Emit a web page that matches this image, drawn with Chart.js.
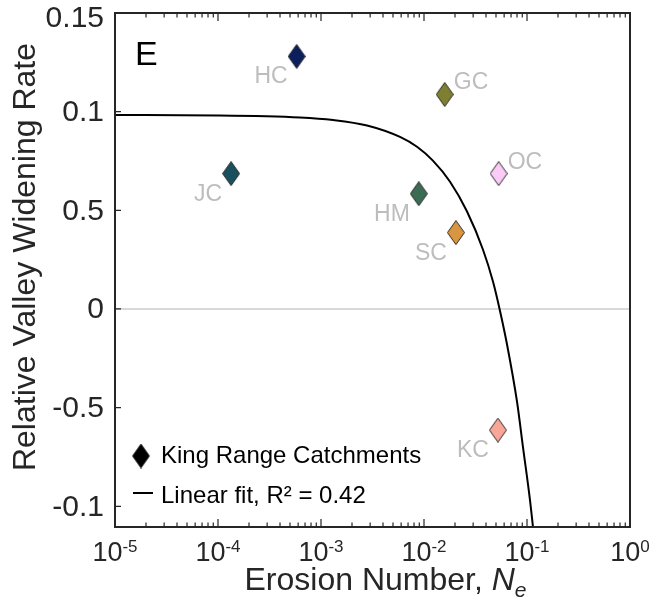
<!DOCTYPE html>
<html lang="en">
<head>
    <meta charset="UTF-8">
    <title>Relative Valley Widening Rate vs Erosion Number</title>
    <script src="https://cdn.jsdelivr.net/npm/chart.js"></script>
    <style>
        body {
            margin: 0;
            background: #fff;
        }
        canvas {
            display: block;
        }
    </style>
</head>
<body>
    <canvas id="widening" width="649" height="605"></canvas>

    <script>
        // King Range catchments
        const catchments = ['HC', 'GC', 'JC', 'OC', 'HM', 'SC', 'KC'];
        const erosionNumber = [5.8e-4, 0.0159, 1.34e-4, 0.0531, 0.0089, 0.0204, 0.0522];
        const wideningRate = [0.128, 0.1087, 0.0686, 0.0686, 0.0584, 0.0387, -0.0614];
        const catchmentColors = ['#0b1f5c', '#7e7f33', '#1a4f5e', '#f9cbf6', '#3b6b52', '#d9953f', '#f8a697'];

        // Linear fit curve, sampled along its length
        const fitX = [1e-5, 1e-4, 6.25e-4, 1.31e-3, 2.8e-3, 5.85e-3, 8.55e-3, 0.0122, 0.0179,
                      0.0261, 0.0374, 0.0468, 0.0547, 0.064, 0.080, 0.0914, 0.107, 0.1143];
        const fitY = [0.0983, 0.0981, 0.0971, 0.0958, 0.0930, 0.0872, 0.0822, 0.0752, 0.0645,
                      0.0495, 0.0300, 0.0138, -0.0010, -0.0180, -0.0470, -0.0700, -0.0970, -0.1105];

        // Axis ticks
        const xMajorTicks = [1e-5, 1e-4, 1e-3, 1e-2, 1e-1, 1];
        const xTickExponents = ['-5', '-4', '-3', '-2', '-1', '0'];
        const yTicks = [0.15, 0.1, 0.05, 0, -0.05, -0.1];
        const yTickLabels = ['0.15', '0.1', '0.5', '0', '-0.5', '-0.1'];

        // names written above-right of their marker (the rest go below-left)
        const labelAbove = ['GC', 'OC'];

        const FONT = "'Liberation Sans', Arial, Helvetica, sans-serif";
        const AXIS_COLOR = '#262626';

        // tall diamond marker drawn once per colour
        function diamond(fill, w, h) {
            const c = document.createElement('canvas');
            c.width = w;
            c.height = h;
            const g = c.getContext('2d');
            g.beginPath();
            g.moveTo(w / 2, 0.5);
            g.lineTo(w - 0.5, h / 2);
            g.lineTo(w / 2, h - 0.5);
            g.lineTo(0.5, h / 2);
            g.closePath();
            g.fillStyle = fill;
            g.fill();
            g.strokeStyle = '#2b2b2b';
            g.lineWidth = 1;
            g.stroke();
            return c;
        }

        const markers = catchmentColors.map(c => diamond(c, 18, 25));
        const legendMarker = diamond('#000', 18, 25);

        const zeroLine = {
            id: 'zeroLine',
            beforeDatasetsDraw(chart) {
                const { ctx, chartArea: a, scales: { y } } = chart;
                const py = y.getPixelForValue(0);
                ctx.save();
                ctx.strokeStyle = '#cccccc';
                ctx.lineWidth = 1.5;
                ctx.beginPath();
                ctx.moveTo(a.left, py);
                ctx.lineTo(a.right, py);
                ctx.stroke();
                ctx.restore();
            }
        };

        const pointNames = {
            id: 'pointNames',
            afterDatasetsDraw(chart) {
                const ctx = chart.ctx;
                const meta = chart.getDatasetMeta(1);
                ctx.save();
                ctx.font = `23px ${FONT}`;
                ctx.fillStyle = '#bdbdbd';
                ctx.textBaseline = 'alphabetic';
                meta.data.forEach((pt, i) => {
                    const name = catchments[i];
                    if (labelAbove.includes(name)) {
                        ctx.textAlign = 'left';
                        ctx.fillText(name, pt.x + 9, pt.y - 5);
                    } else {
                        ctx.textAlign = 'right';
                        ctx.fillText(name, pt.x - 9, pt.y + 27);
                    }
                });
                ctx.restore();
            }
        };

        const frame = {
            id: 'frame',
            afterDraw(chart) {
                const { ctx, chartArea: a, scales: { x, y } } = chart;
                ctx.save();

                // box
                ctx.strokeStyle = AXIS_COLOR;
                ctx.lineWidth = 2;
                ctx.strokeRect(a.left, a.top, a.right - a.left, a.bottom - a.top);

                // inward log ticks on top and bottom
                ctx.lineWidth = 1.2;
                ctx.beginPath();
                xMajorTicks.forEach((v, i) => {
                    const px = x.getPixelForValue(v);
                    ctx.moveTo(px, a.bottom); ctx.lineTo(px, a.bottom - 8);
                    ctx.moveTo(px, a.top); ctx.lineTo(px, a.top + 8);
                    if (i < xMajorTicks.length - 1) {
                        for (let m = 2; m <= 9; m++) {
                            const mx = x.getPixelForValue(v * m);
                            ctx.moveTo(mx, a.bottom); ctx.lineTo(mx, a.bottom - 4.5);
                            ctx.moveTo(mx, a.top); ctx.lineTo(mx, a.top + 4.5);
                        }
                    }
                });
                // inward ticks on the left axis
                yTicks.forEach(v => {
                    const py = y.getPixelForValue(v);
                    ctx.moveTo(a.left, py); ctx.lineTo(a.left + 6, py);
                });
                ctx.stroke();

                // y tick labels
                ctx.fillStyle = AXIS_COLOR;
                ctx.font = `30px ${FONT}`;
                ctx.textAlign = 'right';
                ctx.textBaseline = 'middle';
                yTicks.forEach((v, i) => {
                    const py = y.getPixelForValue(v);
                    ctx.fillText(yTickLabels[i], a.left - 11, Math.max(py, a.top + 5) + 1);
                });

                // x tick labels as powers of ten
                ctx.textAlign = 'left';
                ctx.textBaseline = 'alphabetic';
                xMajorTicks.forEach((v, i) => {
                    ctx.font = `27px ${FONT}`;
                    const wBase = ctx.measureText('10').width;
                    ctx.font = `17px ${FONT}`;
                    const wExp = ctx.measureText(xTickExponents[i]).width;
                    const x0 = x.getPixelForValue(v) - (wBase + wExp) / 2;
                    ctx.font = `27px ${FONT}`;
                    ctx.fillText('10', x0, a.bottom + 34);
                    ctx.font = `17px ${FONT}`;
                    ctx.fillText(xTickExponents[i], x0 + wBase, a.bottom + 25);
                });

                // x axis title: Erosion Number, N_e
                const partA = 'Erosion Number, ';
                ctx.font = `32px ${FONT}`;
                const wA = ctx.measureText(partA).width;
                ctx.font = `italic 32px ${FONT}`;
                const wN = ctx.measureText('N').width;
                ctx.font = `italic 21px ${FONT}`;
                const wE = ctx.measureText('e').width;
                const tx = (a.left + a.right) / 2 + 13 - (wA + wN + wE) / 2;
                const tb = a.bottom + 63;
                ctx.font = `32px ${FONT}`;
                ctx.fillText(partA, tx, tb);
                ctx.font = `italic 32px ${FONT}`;
                ctx.fillText('N', tx + wA, tb);
                ctx.font = `italic 21px ${FONT}`;
                ctx.fillText('e', tx + wA + wN, tb + 7);

                // y axis title
                ctx.save();
                ctx.translate(a.left - 80, (a.top + a.bottom) / 2 - 13);
                ctx.rotate(-Math.PI / 2);
                ctx.textAlign = 'center';
                ctx.font = `32px ${FONT}`;
                ctx.fillText('Relative Valley Widening Rate', 0, 0);
                ctx.restore();

                // panel letter
                ctx.fillStyle = '#000';
                ctx.font = `34px ${FONT}`;
                ctx.textAlign = 'left';
                ctx.fillText('E', a.left + 20, a.top + 52);

                // legend
                ctx.drawImage(legendMarker, a.left + 26 - 9, a.bottom - 71 - 12.5);
                ctx.font = `24px ${FONT}`;
                ctx.fillText('King Range Catchments', a.left + 46, a.bottom - 64);
                ctx.strokeStyle = '#000';
                ctx.lineWidth = 2;
                ctx.beginPath();
                ctx.moveTo(a.left + 18, a.bottom - 34);
                ctx.lineTo(a.left + 38, a.bottom - 34);
                ctx.stroke();
                ctx.fillText('Linear fit, R\u00B2 = 0.42', a.left + 46, a.bottom - 24);

                ctx.restore();
            }
        };

        const ctx = document.getElementById('widening').getContext('2d');
        const chart = new Chart(ctx, {
            type: 'scatter',
            data: {
                datasets: [{
                    type: 'line',
                    label: 'Linear fit',
                    data: fitX.map((v, i) => ({ x: v, y: fitY[i] })),
                    borderColor: '#000',
                    borderWidth: 2,
                    pointRadius: 0,
                    cubicInterpolationMode: 'monotone',
                    fill: false
                }, {
                    label: 'King Range Catchments',
                    data: erosionNumber.map((v, i) => ({ x: v, y: wideningRate[i] })),
                    pointStyle: markers,
                    pointRadius: 10,
                    showLine: false
                }]
            },
            options: {
                responsive: false,
                animation: false,
                devicePixelRatio: 1,
                layout: {
                    padding: { top: 13, right: 19, left: 0, bottom: 0 }
                },
                plugins: {
                    legend: { display: false },
                    tooltip: { enabled: false }
                },
                scales: {
                    x: {
                        type: 'logarithmic',
                        min: 1e-5,
                        max: 1,
                        ticks: { display: false },
                        grid: { display: false },
                        border: { display: false },
                        afterFit: s => { s.height = 78; }
                    },
                    y: {
                        type: 'linear',
                        min: -0.1105,
                        max: 0.15,
                        ticks: { display: false },
                        grid: { display: false },
                        border: { display: false },
                        afterFit: s => { s.width = 115; }
                    }
                }
            },
            plugins: [zeroLine, pointNames, frame]
        });
    </script>
</body>
</html>
